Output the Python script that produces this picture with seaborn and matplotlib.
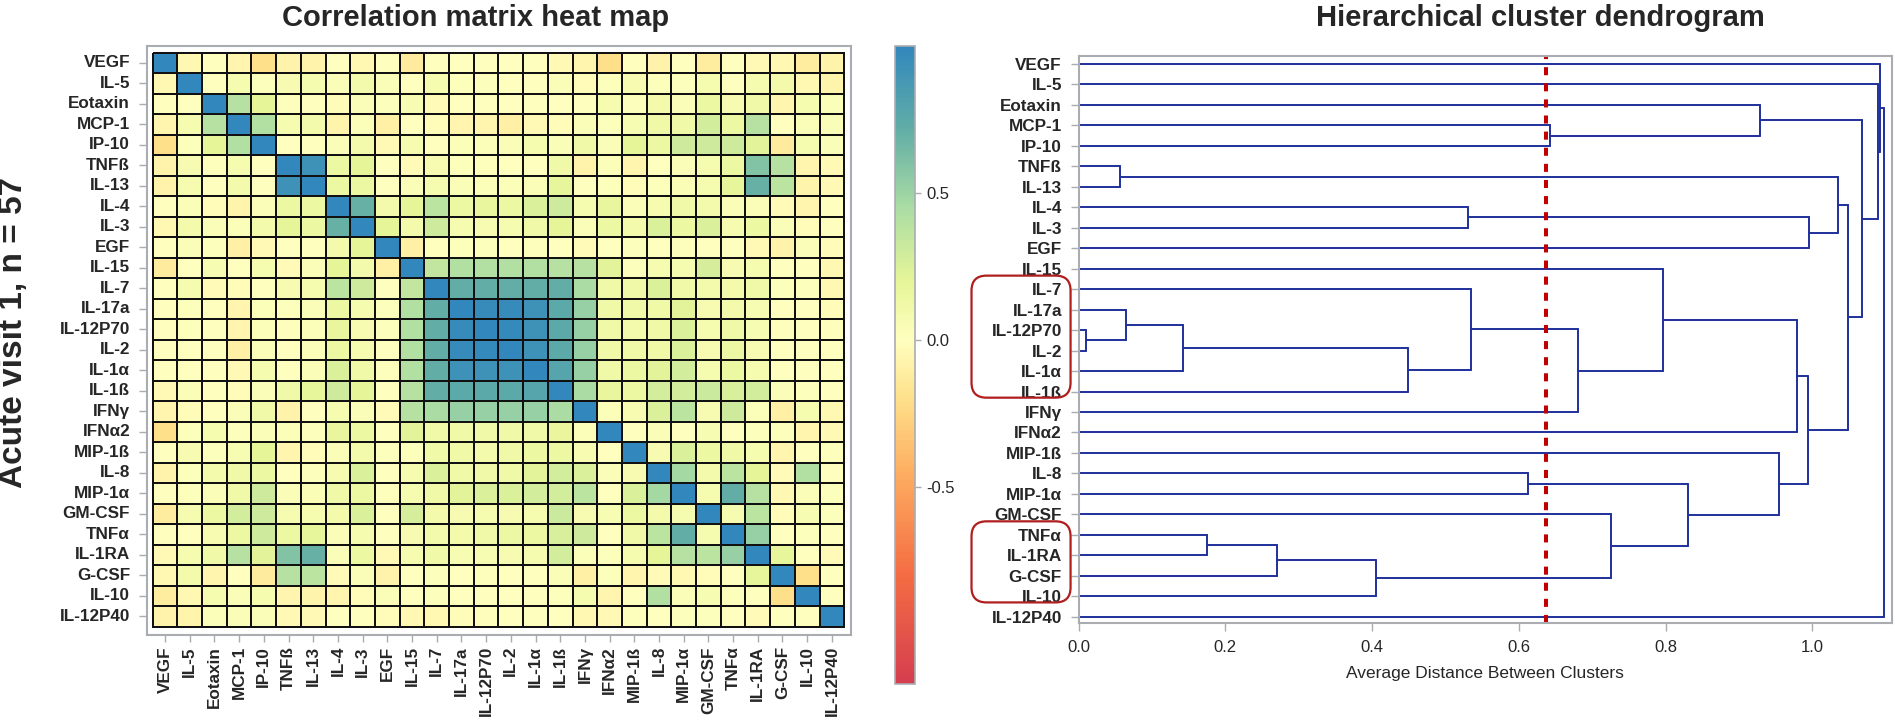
import numpy as np
import pandas as pd
import matplotlib
matplotlib.use("Agg")
import matplotlib.pyplot as plt
import seaborn as sns
from matplotlib.colors import LinearSegmentedColormap
from matplotlib.patches import FancyBboxPatch
from matplotlib.transforms import IdentityTransform

# DATA
cytokines = [
    "VEGF", "IL-5", "Eotaxin", "MCP-1", "IP-10", "TNFß", "IL-13", "IL-4",
    "IL-3", "EGF", "IL-15", "IL-7", "IL-17a", "IL-12P70", "IL-2", "IL-1α",
    "IL-1ß", "IFNγ", "IFNα2", "MIP-1ß", "IL-8", "MIP-1α", "GM-CSF", "TNFα",
    "IL-1RA", "G-CSF", "IL-10", "IL-12P40"
]

# lower triangle of the correlation matrix (row i holds columns 0..i-1)
lower_tri = [
    [],
    [-0.05],
    [0.0, 0.0],
    [-0.06, 0.08, 0.40],
    [-0.20, 0.02, 0.20, 0.42],
    [-0.08, 0.07, 0.01, 0.08, 0.0],
    [-0.08, 0.08, 0.0, 0.10, 0.0, 0.93],
    [0.0, 0.04, -0.02, -0.07, 0.04, 0.15, 0.15],
    [-0.05, 0.10, 0.04, 0.03, 0.10, 0.20, 0.15, 0.70],
    [0.0, 0.04, 0.02, -0.10, -0.04, 0.0, 0.0, 0.10, 0.20],
    [-0.13, 0.0, 0.06, 0.0, 0.08, -0.03, 0.04, 0.20, 0.10, -0.10],
    [0.0, 0.08, -0.03, -0.02, 0.0, 0.07, 0.08, 0.38, 0.30, 0.0, 0.35],
    [0.0, 0.02, 0.0, -0.06, 0.03, 0.02, 0.04, 0.15, 0.08, 0.02, 0.42, 0.72],
    [0.0, 0.02, 0.0, -0.06, 0.03, 0.01, 0.03, 0.17, 0.07, 0.02, 0.42, 0.72,
     0.97],
    [0.0, 0.0, 0.0, -0.10, 0.04, 0.0, 0.03, 0.15, 0.08, 0.0, 0.42, 0.72,
     0.97, 0.98],
    [0.0, 0.0, 0.0, -0.04, 0.08, 0.0, 0.04, 0.25, 0.12, 0.01, 0.42, 0.72,
     0.93, 0.93, 0.93],
    [-0.04, 0.04, 0.0, -0.02, 0.04, 0.12, 0.18, 0.30, 0.20, 0.0, 0.40, 0.72,
     0.75, 0.75, 0.75, 0.78],
    [-0.06, -0.02, 0.0, 0.04, 0.12, -0.08, 0.0, 0.08, 0.04, -0.03, 0.40,
     0.45, 0.52, 0.52, 0.52, 0.52, 0.45],
    [-0.20, 0.02, 0.08, 0.02, 0.04, 0.03, 0.02, 0.17, 0.15, 0.0, 0.22, 0.12,
     0.12, 0.12, 0.12, 0.12, 0.17, 0.03],
    [0.0, 0.07, 0.02, 0.06, 0.20, -0.06, -0.02, 0.04, 0.10, 0.02, 0.02, 0.12,
     0.12, 0.10, 0.12, 0.15, 0.15, 0.07, 0.0],
    [-0.08, 0.02, 0.10, 0.12, 0.15, 0.0, 0.02, 0.08, 0.25, 0.0, 0.08, 0.25,
     0.12, 0.12, 0.12, 0.22, 0.28, 0.25, 0.04, 0.07],
    [0.0, 0.02, 0.04, 0.12, 0.30, 0.04, 0.05, 0.12, 0.15, 0.01, 0.08, 0.12,
     0.22, 0.25, 0.25, 0.28, 0.28, 0.38, 0.0, 0.25, 0.47],
    [-0.12, 0.08, 0.15, 0.28, 0.30, 0.08, 0.08, 0.10, 0.25, 0.0, 0.27, 0.10,
     0.07, 0.08, 0.07, 0.08, 0.32, 0.07, 0.06, 0.15, 0.10, 0.08],
    [0.0, 0.0, 0.07, 0.15, 0.30, 0.15, 0.18, 0.04, 0.08, 0.0, 0.07, 0.10,
     0.10, 0.12, 0.14, 0.15, 0.26, 0.30, 0.0, 0.12, 0.38, 0.72, 0.08],
    [-0.04, 0.08, 0.12, 0.40, 0.22, 0.60, 0.70, 0.04, 0.15, -0.04, 0.08,
     0.12, 0.06, 0.06, 0.07, 0.08, 0.28, 0.03, 0.02, 0.08, 0.20, 0.40, 0.38,
     0.52],
    [-0.05, 0.10, -0.06, 0.0, -0.13, 0.40, 0.38, -0.03, 0.04, -0.08, 0.0,
     0.02, 0.0, 0.01, 0.0, 0.0, 0.04, -0.10, 0.02, -0.06, -0.03, -0.05, -0.02,
     0.0, 0.18],
    [-0.12, -0.05, 0.08, 0.04, 0.08, -0.06, -0.07, -0.06, -0.02, 0.04, 0.0,
     0.02, 0.0, 0.0, 0.0, 0.0, 0.02, 0.08, -0.06, 0.0, 0.42, 0.04, 0.06, 0.02,
     0.0, -0.20],
    [-0.08, -0.07, 0.03, 0.04, 0.04, -0.04, -0.04, 0.0, 0.0, -0.02, -0.05,
     -0.05, -0.02, -0.01, 0.0, 0.0, 0.0, -0.05, -0.04, 0.01, 0.0, 0.02, 0.02,
     0.0, -0.03, 0.0, 0.0],
]

# DENDROGRAM MERGES (average linkage), "mK" = result of merge K
merge_a = ["IL-12P70", "TNFß", "IL-17a", "m2", "TNFα", "m4", "m5", "m3",
           "IL-4", "IL-7", "IL-8", "MCP-1", "m9", "GM-CSF", "IL-15", "m10",
           "Eotaxin", "MIP-1ß", "m14", "m18", "m8", "m1", "m21", "m16",
           "IL-5", "VEGF", "m25"]
merge_b = ["IL-2", "IL-13", "m0", "IL-1α", "IL-1RA", "G-CSF", "IL-10",
           "IL-1ß", "IL-3", "m7", "MIP-1α", "IP-10", "IFNγ", "m6", "m12",
           "m13", "m11", "m15", "IFNα2", "m17", "EGF", "m20", "m19", "m22",
           "m23", "m24", "IL-12P40"]
merge_h = [0.0095, 0.057, 0.064, 0.142, 0.175, 0.271, 0.405, 0.449, 0.531,
           0.535, 0.612, 0.643, 0.680, 0.726, 0.796, 0.830, 0.928, 0.954,
           0.979, 0.994, 0.995, 1.035, 1.048, 1.067, 1.090, 1.092, 1.097]

cut_height = 0.637
boxed_groups = [("IL-7", "IL-1ß"), ("TNFα", "IL-10")]
dist_ticks = [0.0, 0.2, 0.4, 0.6, 0.8, 1.0]
cbar_ticks = [-0.5, 0.0, 0.5]

# BUILD MATRIX
n = len(cytokines)
corr = np.eye(n)
for i, row in enumerate(lower_tri):
    for j, v in enumerate(row):
        corr[i, j] = v
        corr[j, i] = v
corr_df = pd.DataFrame(corr, index=cytokines, columns=cytokines)

# STYLE
sns.set_style("white")
plt.rcParams["font.family"] = ["Liberation Sans", "DejaVu Sans"]
plt.rcParams["axes.unicode_minus"] = False

frame_grey = "#a9adb1"
line_blue = "#1f309c"
label_size = 12.3

vmin, vmax = -1.17, 1.0
anchors = [(-1.17, "#d53e4f"), (-0.8, "#f46d43"), (-0.45, "#fdae61"),
           (-0.2, "#fee08b"), (0.0, "#ffffbf"), (0.2, "#e6f598"),
           (0.45, "#abdda4"), (0.72, "#62ada6"), (1.0, "#3288bd")]
cmap = LinearSegmentedColormap.from_list(
    "corr", [((v - vmin) / (vmax - vmin), c) for v, c in anchors])

fig = plt.figure(figsize=(18.95, 7.2), dpi=100)
ax_hm = fig.add_axes([0.0774, 0.1181, 0.3715, 0.818])
ax_cb = fig.add_axes([0.4723, 0.05, 0.0106, 0.886])
ax_dn = fig.add_axes([0.5692, 0.1343, 0.4290, 0.788])

# HEAT MAP
sns.heatmap(
    corr_df, ax=ax_hm, cmap=cmap, vmin=vmin, vmax=vmax, cbar_ax=ax_cb,
    linewidths=1.1, linecolor="#111111", xticklabels=True, yticklabels=True
)
ax_hm.set_xlim(-0.243, n + 0.26)
ax_hm.set_ylim(n + 0.405, -0.327)
for s in ax_hm.spines.values():
    s.set_visible(True)
    s.set_color(frame_grey)
    s.set_linewidth(1.5)
ax_hm.tick_params(axis="y", left=True, length=6, width=1,
                  color=frame_grey, pad=6)
ax_hm.tick_params(axis="x", bottom=True, length=5, width=1,
                  color=frame_grey, pad=3)
ax_hm.set_xticklabels(cytokines, rotation=90, fontsize=label_size,
                      fontweight="bold")
ax_hm.set_yticklabels(cytokines, rotation=0, fontsize=label_size,
                      fontweight="bold")
ax_hm.set_xlabel("")
ax_hm.set_ylabel("")

cb = ax_hm.collections[0].colorbar
cb.set_ticks(cbar_ticks)
cb.set_ticklabels(["-0.5", "0.0", "0.5"])
cb.outline.set_edgecolor(frame_grey)
cb.outline.set_linewidth(1.2)
cb.ax.tick_params(right=True, length=4, width=1, color=frame_grey,
                  labelsize=12, pad=4)

# DENDROGRAM
pos = {name: (0.0, float(i)) for i, name in enumerate(cytokines)}
for k, (a, b, h) in enumerate(zip(merge_a, merge_b, merge_h)):
    xa, ya = pos[a]
    xb, yb = pos[b]
    ax_dn.plot([xa, h], [ya, ya], color=line_blue, lw=1.4)
    ax_dn.plot([xb, h], [yb, yb], color=line_blue, lw=1.4)
    ax_dn.plot([h, h], [ya, yb], color=line_blue, lw=1.4)
    pos[f"m{k}"] = (h, (ya + yb) / 2)

ax_dn.axvline(cut_height, color="#c00000", lw=2.9, linestyle=(0, (2, 2)))
ax_dn.set_xlim(0, 1.108)
ax_dn.set_ylim(n - 1 + 0.32, -0.39)
ax_dn.set_yticks(range(n))
ax_dn.set_yticklabels(cytokines, fontsize=label_size, fontweight="bold")
ax_dn.set_xticks(dist_ticks)
ax_dn.set_xticklabels([f"{t:.1f}" for t in dist_ticks], fontsize=12)
ax_dn.set_xlabel("Average Distance Between Clusters", fontsize=12.5,
                 labelpad=8)
for s in ax_dn.spines.values():
    s.set_visible(True)
    s.set_color(frame_grey)
    s.set_linewidth(1.5)
ax_dn.tick_params(bottom=True, left=True, length=6, width=1,
                  color=frame_grey, pad=6)

# RED BOXES AROUND CLUSTERS
for top, bottom in boxed_groups:
    i0 = cytokines.index(top)
    i1 = cytokines.index(bottom)
    (x0, y0), (x1, y1) = ax_dn.transData.transform(
        [(-0.146, i1 + 0.3), (-0.011, i0 - 0.66)])
    box = FancyBboxPatch(
        (x0, y0), x1 - x0, y1 - y0,
        boxstyle="round,pad=0,rounding_size=15",
        transform=IdentityTransform(), fill=False,
        edgecolor="#b01e1e", lw=1.6
    )
    fig.add_artist(box)

# TITLES
fig.text(476 / 1895, 1 - 26 / 720, "Correlation matrix heat map",
         ha="center", va="baseline", fontsize=21, fontweight="bold")
fig.text(1540 / 1895, 1 - 26 / 720, "Hierarchical cluster dendrogram",
         ha="center", va="baseline", fontsize=21, fontweight="bold")
fig.text(14 / 1895, 1 - 332 / 720, "Acute visit 1, n = 57", rotation=90,
         ha="center", va="center", fontsize=24, fontweight="bold")

fig.savefig("out.png", dpi=100)
